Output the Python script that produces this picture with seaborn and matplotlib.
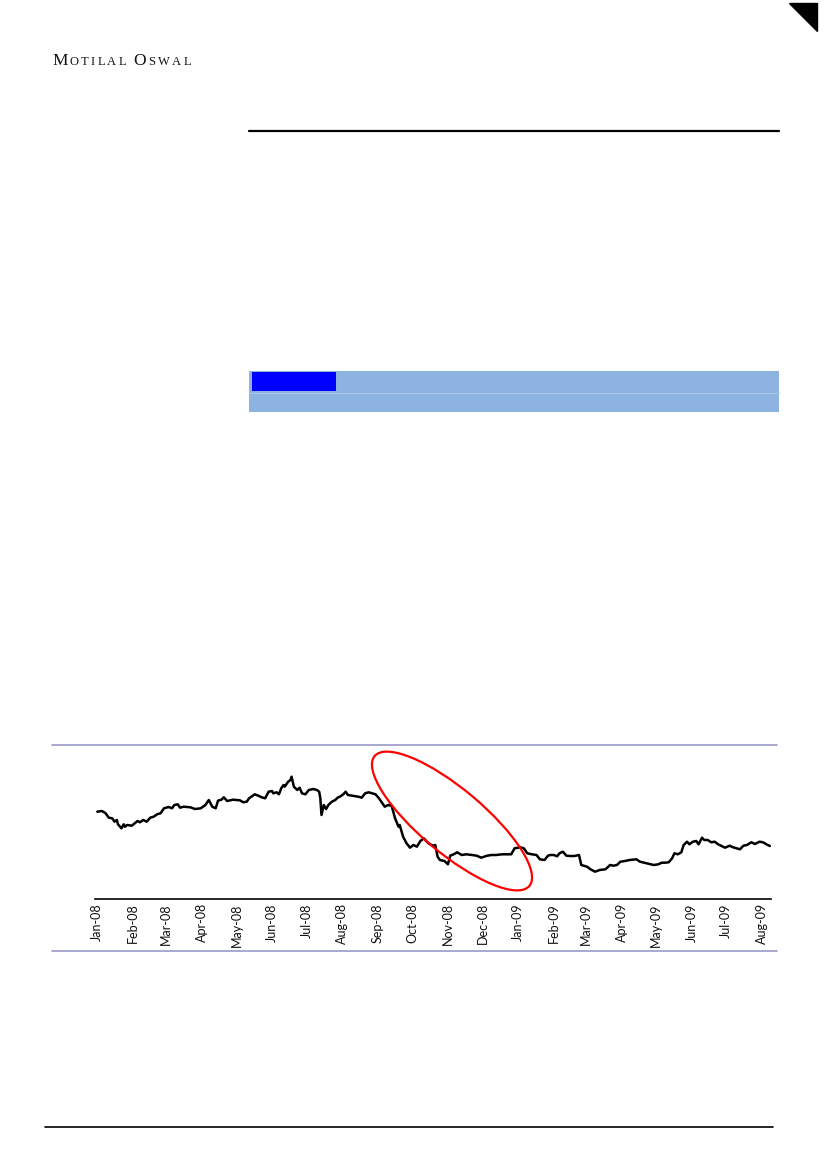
import matplotlib
matplotlib.use("Agg")
import matplotlib.pyplot as plt
import matplotlib.dates as mdates
from matplotlib.patches import Ellipse, Rectangle, Polygon
from matplotlib.lines import Line2D
import pandas as pd
import seaborn as sns

# daily closing level (arbitrary units - no y axis shown)
dates = [
    "2008-01-01", "2008-01-05", "2008-01-08", "2008-01-11", "2008-01-14", "2008-01-16",
    "2008-01-18", "2008-01-19", "2008-01-22", "2008-01-24", "2008-01-25", "2008-01-27",
    "2008-01-31", "2008-02-05", "2008-02-07", "2008-02-10", "2008-02-13", "2008-02-16",
    "2008-02-19", "2008-02-22", "2008-02-25", "2008-02-28", "2008-03-03", "2008-03-06",
    "2008-03-08", "2008-03-11", "2008-03-13", "2008-03-16", "2008-03-22", "2008-03-26",
    "2008-03-31", "2008-04-04", "2008-04-07", "2008-04-10", "2008-04-13", "2008-04-15",
    "2008-04-18", "2008-04-20", "2008-04-23", "2008-04-28", "2008-05-04", "2008-05-07",
    "2008-05-10", "2008-05-12", "2008-05-14", "2008-05-17", "2008-05-20", "2008-05-23",
    "2008-05-26", "2008-05-29", "2008-06-01", "2008-06-02", "2008-06-05", "2008-06-07",
    "2008-06-09", "2008-06-11", "2008-06-12", "2008-06-15", "2008-06-17", "2008-06-18",
    "2008-06-20", "2008-06-23", "2008-06-25", "2008-06-27", "2008-06-30", "2008-07-03",
    "2008-07-07", "2008-07-10", "2008-07-12", "2008-07-13", "2008-07-14", "2008-07-16",
    "2008-07-18", "2008-07-20", "2008-07-23", "2008-07-26", "2008-07-28", "2008-07-30",
    "2008-08-02", "2008-08-04", "2008-08-06", "2008-08-11", "2008-08-15", "2008-08-18",
    "2008-08-21", "2008-08-24", "2008-08-27", "2008-08-30", "2008-09-02", "2008-09-04",
    "2008-09-07", "2008-09-10", "2008-09-13", "2008-09-16", "2008-09-19", "2008-09-20",
    "2008-09-23", "2008-09-26", "2008-09-29", "2008-10-02", "2008-10-05", "2008-10-08",
    "2008-10-11", "2008-10-15", "2008-10-19", "2008-10-21", "2008-10-23", "2008-10-25",
    "2008-10-29", "2008-11-01", "2008-11-03", "2008-11-06", "2008-11-09", "2008-11-13",
    "2008-11-17", "2008-11-22", "2008-11-26", "2008-11-30", "2008-12-05", "2008-12-09",
    "2008-12-13", "2008-12-18", "2008-12-22", "2008-12-26", "2008-12-29", "2009-01-03",
    "2009-01-06", "2009-01-09", "2009-01-13", "2009-01-17", "2009-01-20", "2009-01-24",
    "2009-01-27", "2009-01-29", "2009-02-01", "2009-02-04", "2009-02-06", "2009-02-09",
    "2009-02-12", "2009-02-15", "2009-02-19", "2009-02-23", "2009-02-25", "2009-03-02",
    "2009-03-05", "2009-03-09", "2009-03-13", "2009-03-18", "2009-03-22", "2009-03-25",
    "2009-03-28", "2009-03-31", "2009-04-04", "2009-04-08", "2009-04-14", "2009-04-17",
    "2009-04-23", "2009-04-29", "2009-05-03", "2009-05-06", "2009-05-09", "2009-05-12",
    "2009-05-15", "2009-05-17", "2009-05-20", "2009-05-23", "2009-05-25", "2009-05-28",
    "2009-05-30", "2009-06-02", "2009-06-05", "2009-06-07", "2009-06-10", "2009-06-12",
    "2009-06-15", "2009-06-18", "2009-06-21", "2009-06-24", "2009-06-27", "2009-06-30",
    "2009-07-04", "2009-07-07", "2009-07-10", "2009-07-13", "2009-07-16", "2009-07-19",
    "2009-07-23", "2009-07-26", "2009-07-30", "2009-08-02", "2009-08-05", "2009-08-08",
]
values = [
    88.3, 89.0, 87.0, 82.3, 81.7, 78.3,
    80.0, 75.7, 71.7, 75.7, 73.3, 75.0,
    74.3, 79.0, 77.7, 80.0, 78.3, 82.3,
    83.3, 85.7, 86.7, 91.7, 93.0, 91.7,
    95.0, 95.7, 92.3, 93.3, 92.7, 91.0,
    91.7, 95.0, 100.0, 93.3, 91.7, 99.3,
    100.3, 102.7, 99.0, 100.3, 99.7, 97.7,
    98.3, 101.7, 103.3, 105.7, 104.3, 102.7,
    101.7, 108.3, 109.0, 106.7, 107.7, 105.7,
    111.7, 115.0, 113.3, 118.3, 120.0, 123.3,
    113.3, 110.0, 112.3, 106.7, 105.7, 110.0,
    111.0, 110.0, 108.3, 101.7, 85.0, 95.0,
    91.0, 95.0, 98.3, 100.0, 102.3, 103.3,
    105.7, 108.3, 105.0, 104.0, 103.3, 102.3,
    106.7, 107.7, 106.7, 105.7, 101.7, 98.3,
    93.3, 95.0, 94.3, 81.7, 73.3, 75.0,
    63.3, 56.7, 52.3, 55.0, 53.3, 59.0,
    61.7, 56.7, 54.3, 55.0, 43.3, 40.0,
    39.0, 35.7, 44.3, 45.7, 47.7, 45.0,
    45.7, 45.0, 44.3, 42.3, 44.3, 45.0,
    45.0, 45.7, 45.7, 45.7, 51.7, 52.7,
    51.7, 46.7, 45.7, 45.0, 40.7, 40.0,
    44.3, 45.0, 45.0, 43.7, 46.7, 48.3,
    44.3, 44.0, 44.0, 45.0, 35.0, 33.3,
    30.7, 28.3, 30.0, 30.7, 35.0, 34.3,
    35.0, 38.3, 39.0, 40.0, 40.7, 38.3,
    36.7, 35.0, 35.7, 37.3, 37.3, 37.7,
    41.7, 46.7, 45.7, 47.7, 55.0, 58.3,
    55.7, 58.3, 59.0, 55.7, 62.3, 60.0,
    60.0, 57.7, 58.3, 55.7, 54.0, 52.3,
    54.3, 52.7, 51.7, 50.7, 54.3, 55.0,
    57.7, 56.0, 58.3, 57.7, 55.7, 54.0,
]

df = pd.DataFrame({"date": pd.to_datetime(dates), "value": values})

W, H = 827, 1169

sns.set_style("white")
plt.rcParams["font.family"] = ["Lato", "DejaVu Sans"]

fig = plt.figure(figsize=(W / 100, H / 100), dpi=100)


def fx(x):
    return x / W


def fy(y):
    return 1 - y / H


# page decorations
fig.add_artist(Polygon([(fx(789), fy(3)), (fx(817), fy(3)), (fx(817), fy(31))],
                       closed=True, color="black", transform=fig.transFigure))
fig.add_artist(Line2D([fx(249), fx(779)], [fy(131), fy(131)], color="black", lw=1.6,
                      transform=fig.transFigure))
fig.add_artist(Rectangle((fx(249), fy(412)), fx(530), 41 / H, color="#8db3e2",
                         transform=fig.transFigure, lw=0))
fig.add_artist(Rectangle((fx(252), fy(391)), fx(84), 19 / H, color="#0000ff",
                         transform=fig.transFigure, lw=0))
fig.add_artist(Line2D([fx(249), fx(779)], [fy(392.5), fy(392.5)], color="#a9c6ea", lw=0.8,
                      transform=fig.transFigure))
for yy in (745, 951):
    fig.add_artist(Line2D([fx(52), fx(777)], [fy(yy), fy(yy)], color="#9a9ac8", lw=1.2,
                          transform=fig.transFigure))
fig.add_artist(Line2D([fx(45), fx(773)], [fy(1127), fy(1127)], color="black", lw=1.2,
                      transform=fig.transFigure))

# small-caps logo text, letter by letter
logo = [("M", 12.5), ("O", 9), ("T", 9), ("I", 9), ("L", 9), ("A", 9), ("L", 9),
        (" ", 9), ("O", 12.5), ("S", 9), ("W", 9), ("A", 9), ("L", 9)]
renderer = fig.canvas.get_renderer()
xpos = 52
for ch, sz in logo:
    if ch == " ":
        xpos += 5
        continue
    t = fig.text(fx(xpos), fy(65), ch, fontsize=sz, family="Liberation Serif",
                 va="baseline", ha="left", color="#111111")
    xpos += t.get_window_extent(renderer).width + 2.3

# the chart
ax = fig.add_axes([fx(95), fy(899), fx(771) - fx(95), (899 - 760) / H])
sns.lineplot(data=df, x="date", y="value", color="black", linewidth=1.8, ax=ax)
ax.set_xlim(pd.Timestamp("2007-12-30"), pd.Timestamp("2009-08-09"))
ax.set_ylim(1, 140)
ax.xaxis.set_major_locator(mdates.MonthLocator())
ax.xaxis.set_major_formatter(mdates.DateFormatter("%b-%y"))
ax.set_yticks([])
ax.set_xlabel("")
ax.set_ylabel("")
for s in ("top", "right", "left"):
    ax.spines[s].set_visible(False)
ax.spines["bottom"].set_color("black")
ax.spines["bottom"].set_linewidth(1.2)
ax.tick_params(axis="x", length=0, pad=3, labelsize=9, rotation=90, labelcolor="#111111")
ax.patch.set_alpha(0)

# red ellipse highlighting the crash (in inches, page pixel / 100)
fig.add_artist(Ellipse((4.52, (H - 821) / 100), 2.02, 0.64, angle=-40, fill=False,
                       edgecolor="#ff0000", lw=1.6, transform=fig.dpi_scale_trans))

fig.savefig("out.png", dpi=100)
